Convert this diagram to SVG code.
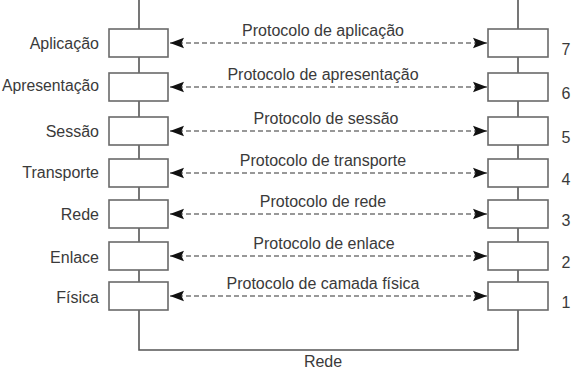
<svg xmlns="http://www.w3.org/2000/svg" width="574" height="374" viewBox="0 0 574 374">
<style>
  text { font-family: "Liberation Sans", Arial, sans-serif; font-size: 16px; fill: #3a3a3a; }
  .lbl { text-anchor: end; }
  .num { text-anchor: middle; }
  .proto { text-anchor: middle; }
  .box { fill: #ffffff; stroke: #6a6a6a; stroke-width: 1.6; }
  .wire { fill: none; stroke: #555555; stroke-width: 1.6; }
  .dash { fill: none; stroke: #777777; stroke-width: 1.6; stroke-dasharray: 5 3; marker-start: url(#ah); marker-end: url(#ah); }
</style>
<defs>
  <marker id="ah" markerUnits="userSpaceOnUse" markerWidth="14" markerHeight="12" refX="14" refY="6" orient="auto-start-reverse">
    <path d="M0,0.8 L14,6 L0,11.2 L2.5,6 z" fill="#111111"/>
  </marker>
</defs>
<rect width="574" height="374" fill="#ffffff"/>
<g id="connectors">
  <path class="wire" d="M139,0 V29 M139,57 V73 M139,101 V117 M139,145 V159 M139,187 V200 M139,228 V242 M139,270 V282 M139,310 V350 H518 V310 M518,282 V270 M518,242 V228 M518,200 V187 M518,159 V145 M518,117 V101 M518,73 V57 M518,29 V0"/>
  <line class="dash" x1="170" y1="43" x2="487" y2="43"/>
  <line class="dash" x1="170" y1="87" x2="487" y2="87"/>
  <line class="dash" x1="170" y1="131" x2="487" y2="131"/>
  <line class="dash" x1="170" y1="173" x2="487" y2="173"/>
  <line class="dash" x1="170" y1="214" x2="487" y2="214"/>
  <line class="dash" x1="170" y1="256" x2="487" y2="256"/>
  <line class="dash" x1="170" y1="296" x2="487" y2="296"/>
  <text class="proto" x="323" y="36">Protocolo de aplicação</text>
  <text class="proto" x="323" y="80">Protocolo de apresentação</text>
  <text class="proto" x="326" y="124">Protocolo de sessão</text>
  <text class="proto" x="323" y="166">Protocolo de transporte</text>
  <text class="proto" x="323" y="207">Protocolo de rede</text>
  <text class="proto" x="324" y="249">Protocolo de enlace</text>
  <text class="proto" x="323" y="289">Protocolo de camada física</text>
  <text class="proto" x="323" y="367">Rede</text>
</g>
<g id="left-aplicacao"><rect class="box" x="109" y="29" width="59" height="28"/><text class="lbl" x="99" y="49">Aplicação</text></g>
<g id="left-apresentacao"><rect class="box" x="109" y="73" width="59" height="28"/><text class="lbl" x="99" y="91" textLength="97" lengthAdjust="spacingAndGlyphs">Apresentação</text></g>
<g id="left-sessao"><rect class="box" x="109" y="117" width="59" height="28"/><text class="lbl" x="99" y="137">Sessão</text></g>
<g id="left-transporte"><rect class="box" x="109" y="159" width="59" height="28"/><text class="lbl" x="99" y="178">Transporte</text></g>
<g id="left-rede"><rect class="box" x="109" y="200" width="59" height="28"/><text class="lbl" x="99" y="220">Rede</text></g>
<g id="left-enlace"><rect class="box" x="109" y="242" width="59" height="28"/><text class="lbl" x="99" y="263">Enlace</text></g>
<g id="left-fisica"><rect class="box" x="109" y="282" width="59" height="28"/><text class="lbl" x="99" y="303">Física</text></g>
<g id="right-7"><rect class="box" x="488" y="29" width="60" height="28"/><text class="num" x="566" y="55">7</text></g>
<g id="right-6"><rect class="box" x="488" y="73" width="60" height="28"/><text class="num" x="566" y="99">6</text></g>
<g id="right-5"><rect class="box" x="488" y="117" width="60" height="28"/><text class="num" x="566" y="143">5</text></g>
<g id="right-4"><rect class="box" x="488" y="159" width="60" height="28"/><text class="num" x="566" y="185">4</text></g>
<g id="right-3"><rect class="box" x="488" y="200" width="60" height="28"/><text class="num" x="566" y="226">3</text></g>
<g id="right-2"><rect class="box" x="488" y="242" width="60" height="28"/><text class="num" x="566" y="268">2</text></g>
<g id="right-1"><rect class="box" x="488" y="282" width="60" height="28"/><text class="num" x="566" y="308">1</text></g>
</svg>
